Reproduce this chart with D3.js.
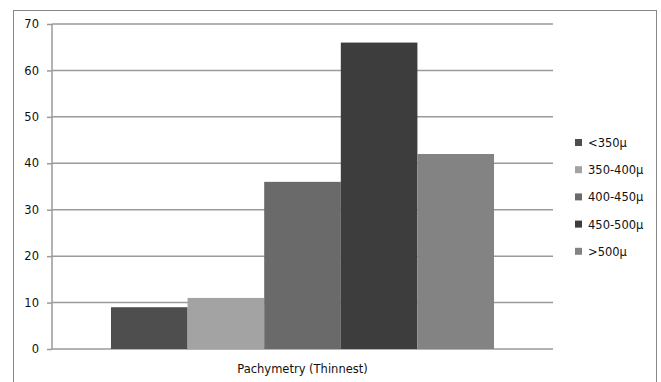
<!DOCTYPE html>
<html><head><meta charset="utf-8">
<script src="https://cdn.jsdelivr.net/npm/d3@7"></script>
<style>body{margin:0;background:#fff}svg{display:block}text{font-family:"DejaVu Sans",Verdana,sans-serif;fill:#111}</style>
</head><body><svg id="c" width="661" height="382"></svg>
<script>
const categories = ["<350\u03bc","350-400\u03bc","400-450\u03bc","450-500\u03bc",">500\u03bc"];
const values = [9, 11, 36, 66, 42];
const colors = ["#4e4e4e","#a3a3a3","#6a6a6a","#3d3d3d","#838383"];
const yTicks = [0,10,20,30,40,50,60,70];
const xLabel = "Pachymetry (Thinnest)";

(function(){
const svg = d3.select("#c");
svg.append("rect").attr("x",13.5).attr("y",10.5).attr("width",643).attr("height",380)
  .attr("fill","#fff").attr("stroke","#888").attr("stroke-width",1);

const pL=52, pR=553, pT=24, pB=349;
const y = d3.scaleLinear().domain([0,70]).range([pB,pT]);
const group = d3.scaleBand().domain(["g"]).range([pL,pR]).paddingInner(0).paddingOuter(0.154);
const x = d3.scaleBand().domain(categories).range([group("g"), group("g")+group.bandwidth()]);

svg.append("g").selectAll("line").data(yTicks).join("line")
  .attr("x1",pL).attr("x2",pR).attr("y1",d=>y(d)).attr("y2",d=>y(d))
  .attr("stroke","#9a9a9a").attr("stroke-width",1.5);

svg.append("g").selectAll("rect").data(values).join("rect")
  .attr("x",(d,i)=>x(categories[i])).attr("width",x.bandwidth())
  .attr("y",d=>y(d)).attr("height",d=>pB-y(d)).attr("fill",(d,i)=>colors[i]);

const ax = svg.append("g").attr("transform",`translate(${pL},0)`)
  .call(d3.axisLeft(y).tickValues(yTicks).tickSize(5).tickPadding(8));
ax.selectAll("path,line").attr("stroke","#9a9a9a").attr("stroke-width",1.5);
ax.select(".domain").attr("d",`M0,${pT}V${pB}`);
ax.selectAll("text").attr("font-size",11.5).attr("font-family","DejaVu Sans, Verdana, sans-serif").attr("fill","#111");

svg.append("text").attr("x",(pL+pR)/2).attr("y",373).attr("text-anchor","middle")
  .attr("font-size",11.5).text(xLabel);

const lg = svg.append("g").selectAll("g").data(categories).join("g")
  .attr("transform",(d,i)=>`translate(575,${143+i*27.2})`);
lg.append("rect").attr("x",0).attr("y",-4).attr("width",7).attr("height",7).attr("fill",(d,i)=>colors[i]);
lg.append("text").attr("x",13).attr("y",0).attr("dy","0.35em").attr("font-size",11.5).text(d=>d);
})();
</script></body></html>
